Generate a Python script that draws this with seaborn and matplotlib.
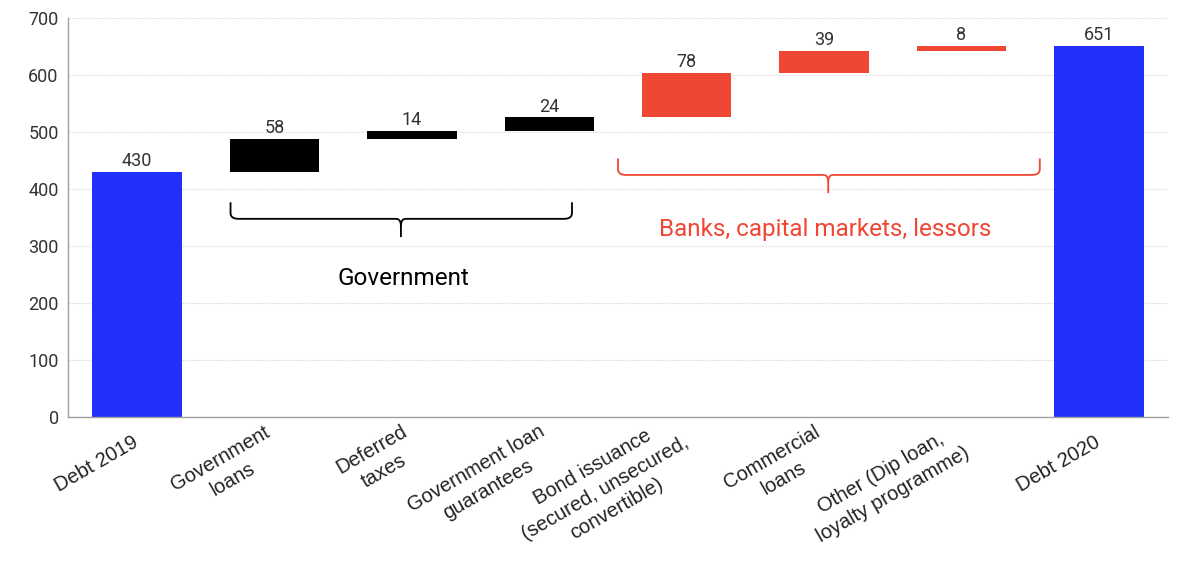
import numpy as np
import pandas as pd
import matplotlib
matplotlib.use("Agg")
import matplotlib.pyplot as plt
import seaborn as sns

categories = ["Debt 2019", "Government\nloans", "Deferred\ntaxes", "Government loan\nguarantees",
              "Bond issuance\n(secured, unsecured,\nconvertible)", "Commercial\nloans",
              "Other (Dip loan,\nloyalty programme)", "Debt 2020"]
changes = [430, 58, 14, 24, 78, 39, 8, 651]
kinds = ["total", "gov", "gov", "gov", "market", "market", "market", "total"]

kind_colors = {"total": "#2131fb", "gov": "#000000", "market": "#f04634"}

# waterfall bases
bases = []
running = 0
for v, k in zip(changes, kinds):
    if k == "total":
        bases.append(0)
        running = v
    else:
        bases.append(running)
        running += v
tops = [b + v for b, v in zip(bases, changes)]

df = pd.DataFrame({"category": categories, "change": changes, "base": bases, "kind": kinds})

sns.set_theme(style="white")
plt.rcParams["font.family"] = ["Roboto", "DejaVu Sans"]

fig = plt.figure(figsize=(12, 5.86), dpi=100)
ax = fig.add_axes([0.057, 0.288, 0.916, 0.681])

sns.barplot(data=df, x="category", y="change", order=categories, bottom=df["base"].values,
            width=0.65, ax=ax, color="#000000", saturation=1, linewidth=0, errorbar=None)
for patch, k in zip(ax.patches, kinds):
    patch.set_facecolor(kind_colors[k])
    patch.set_edgecolor("none")

for i, (t, v) in enumerate(zip(tops, changes)):
    ax.text(i, t + 3, f"{v}", ha="center", va="bottom", fontsize=13, color="#333333")

ax.set_ylim(0, 700)
ax.set_xlim(-0.5, len(categories) - 0.5)
ax.set_yticks(range(0, 701, 100))
ax.yaxis.grid(True, color="#e3e3e3", linewidth=0.8, linestyle=(0, (2, 1)))
ax.set_axisbelow(True)
ax.set_xlabel("")
ax.set_ylabel("")
for s in ["top", "right"]:
    ax.spines[s].set_visible(False)
for s in ["left", "bottom"]:
    ax.spines[s].set_color("#a0a0a0")
    ax.spines[s].set_linewidth(1.0)

ax.tick_params(axis="y", length=0, labelsize=13, labelcolor="#333333", pad=7)
ax.set_xticks(range(len(categories)))
ax.set_xticklabels(categories, rotation=30, ha="right", va="center", rotation_mode="anchor",
                   fontsize=14.5, color="#222222", family=["Liberation Sans", "DejaVu Sans"])
for lab in ax.get_xticklabels():
    lab.set_multialignment("center")
    lab.set_linespacing(1.35)
ax.tick_params(axis="x", which="major", length=0, pad=17)
ax.set_xticks(np.arange(-0.5, len(categories), 1.0), minor=True)
ax.tick_params(axis="x", which="minor", length=5, color="#a0a0a0", width=1)


def bracket(x0, x1, xm, ytop, yh, ytip, color):
    r = 0.06
    ry = (ytop - yh) * 0.35
    t = np.linspace(0, 1, 8)
    pts_x, pts_y = [x0, x0], [ytop, yh + ry]
    pts_x += list((1 - t) ** 2 * x0 + 2 * (1 - t) * t * x0 + t ** 2 * (x0 + r))
    pts_y += list((1 - t) ** 2 * (yh + ry) + 2 * (1 - t) * t * yh + t ** 2 * yh)
    dy = (yh - ytip) * 0.4
    pts_x += [xm - r * 0.6]
    pts_y += [yh]
    pts_x += list((1 - t) ** 2 * (xm - r * 0.6) + 2 * (1 - t) * t * xm + t ** 2 * xm)
    pts_y += list((1 - t) ** 2 * yh + 2 * (1 - t) * t * yh + t ** 2 * (yh - dy))
    pts_x += [xm]
    pts_y += [ytip]
    ax.plot(pts_x, pts_y, color=color, lw=1.3, solid_capstyle="butt", clip_on=False)
    pts_x2 = [xm] + list((1 - t) ** 2 * xm + 2 * (1 - t) * t * xm + t ** 2 * (xm + r * 0.6))
    pts_y2 = [yh - dy] + list((1 - t) ** 2 * (yh - dy) + 2 * (1 - t) * t * yh + t ** 2 * yh)
    pts_x2 += [x1 - r]
    pts_y2 += [yh]
    pts_x2 += list((1 - t) ** 2 * (x1 - r) + 2 * (1 - t) * t * x1 + t ** 2 * x1)
    pts_y2 += list((1 - t) ** 2 * yh + 2 * (1 - t) * t * yh + t ** 2 * (yh + ry))
    pts_x2 += [x1]
    pts_y2 += [ytop]
    ax.plot(pts_x2, pts_y2, color=color, lw=1.3, solid_capstyle="butt", clip_on=False)


bracket(0.68, 3.165, 1.92, 377, 348, 316, "#000000")
bracket(3.5, 6.57, 5.03, 454, 425, 393, "#f04634")

ax.text(1.936, 244, "Government", ha="center", va="center", fontsize=17.5, color="#000000")
ax.text(5.005, 330, "Banks, capital markets, lessors", ha="center", va="center",
        fontsize=17.5, color="#f04634")

fig.savefig("out.png", dpi=100, facecolor="white")
